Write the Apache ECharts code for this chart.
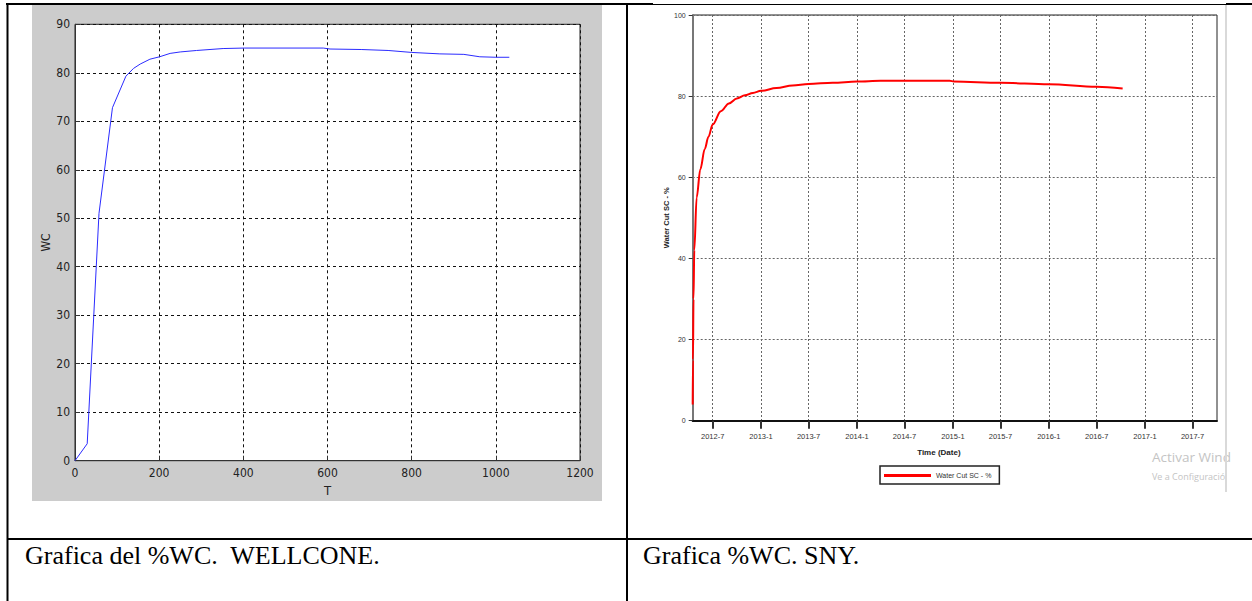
<!DOCTYPE html>
<html>
<head>
<meta charset="utf-8">
<script src="https://cdn.jsdelivr.net/npm/echarts@6/dist/echarts.min.js"></script>
<style>
html,body{margin:0;padding:0;background:#fff;}
#c{width:1252px;height:601px;}
</style>
</head>
<body>
<div id="c"></div>
<script>
// ---- Left chart (WELLCONE): T vs WC ----
const wellconeT  = [0, 29, 57, 89, 121, 139, 155, 178, 201, 226, 250, 289, 352, 402, 590, 606, 680, 744, 800, 867, 924, 962, 1000, 1032];
const wellconeWC = [0, 3.5, 51, 72.8, 79.3, 80.9, 81.8, 82.8, 83.3, 84.0, 84.3, 84.6, 85.0, 85.1, 85.1, 84.9, 84.8, 84.6, 84.2, 83.9, 83.8, 83.3, 83.2, 83.2];

// ---- Right chart (SNY): date vs Water Cut SC - % ----
const snyDates = ['2012-04-16','2012-04-17','2012-04-19','2012-04-22','2012-05-01','2012-05-15','2012-06-01','2012-06-15','2012-07-01','2012-08-01','2012-09-01','2012-10-01','2012-11-01','2012-12-01','2013-01-01','2013-03-01','2013-05-01','2013-07-01','2013-10-01','2014-01-01','2014-04-01','2014-12-20','2015-01-05','2015-07-01','2016-01-01','2016-07-01','2016-10-08'];
const snyWC    = [4, 15, 30, 42, 55, 62, 67, 70, 73, 76.3, 78.2, 79.4, 80.2, 80.8, 81.3, 82.0, 82.6, 83.0, 83.3, 83.6, 83.8, 83.8, 83.6, 83.3, 82.9, 82.3, 81.9];
const snyTickLabels = ['2012-7','2013-1','2013-7','2014-1','2014-7','2015-1','2015-7','2016-1','2016-7','2017-1','2017-7'];
const snyRange = ['2012-04-16', '2017-10-02'];

const captions = ['Grafica del %WC.  WELLCONE.', 'Grafica %WC. SNY.'];
const watermark = ['Activar Wind', 'Ve a Configuració'];

function dayTime(s){ const p = s.split('-'); return Date.UTC(+p[0], +p[1]-1, p[2] ? +p[2] : 1); }
const snyTicks = snyTickLabels.map(dayTime);

const narrow = "'Liberation Sans Narrow','DejaVu Sans Condensed','Liberation Sans',sans-serif";
const sans = "'Liberation Sans',Arial,sans-serif";

const chart = echarts.init(document.getElementById('c'), null, {renderer:'svg'});
chart.setOption({
  animation:false,
  backgroundColor:'#fff',
  grid:[
    {left:75, right:672, top:24.3, bottom:140.3, show:true, backgroundColor:'#fff', borderColor:'#222', borderWidth:1, containLabel:false},
    {left:692.7, right:35, top:15, bottom:180.3, show:true, backgroundColor:'#fff', borderColor:'#222', borderWidth:1, containLabel:false}
  ],
  legend:{
    data:['Water Cut SC - %'], left:880, top:466, orient:'horizontal',
    icon:'rect', itemWidth:47, itemHeight:3, itemGap:5,
    padding:[6,8,5,4], borderColor:'#222', borderWidth:1.5, backgroundColor:'#fff',
    textStyle:{fontSize:7, color:'#333', fontFamily:sans}
  },
  xAxis:[
    {gridIndex:0, type:'value', min:0, max:1200, interval:200,
     name:'T', nameLocation:'middle', nameGap:23,
     nameTextStyle:{fontSize:13, color:'#222', fontFamily:narrow},
     axisLine:{lineStyle:{color:'#333', width:1}},
     axisTick:{inside:true, length:5, lineStyle:{color:'#333'}},
     axisLabel:{fontSize:12, color:'#222', margin:6, fontFamily:narrow, formatter:function(v){ return String(v); }},
     splitLine:{show:true, lineStyle:{color:'#111', type:[3,3], width:1}}},
    {gridIndex:1, type:'value', min:dayTime(snyRange[0]), max:dayTime(snyRange[1]),
     name:'Time (Date)', nameLocation:'middle', nameGap:28,
     nameTextStyle:{fontSize:8, fontWeight:'bold', color:'#222', fontFamily:sans, padding:[0,32,0,0]},
     axisLine:{lineStyle:{color:'#111', width:2}},
     axisTick:{show:true, length:8, customValues:snyTicks, lineStyle:{color:'#333', width:2}},
     axisLabel:{fontSize:7.5, color:'#333', margin:12, fontFamily:sans, customValues:snyTicks, hideOverlap:false,
       formatter:function(v){ const d=new Date(v); return d.getUTCFullYear()+'-'+(d.getUTCMonth()+1); }},
     splitLine:{show:true, lineStyle:{color:'#666', type:[2,2], width:1}}}
  ],
  yAxis:[
    {gridIndex:0, type:'value', min:0, max:90, interval:10,
     name:'WC', nameLocation:'middle', nameGap:23,
     nameTextStyle:{fontSize:12, color:'#222', fontFamily:narrow},
     axisLine:{lineStyle:{color:'#333', width:1}},
     axisTick:{inside:true, length:5, lineStyle:{color:'#333'}},
     axisLabel:{fontSize:12, color:'#222', margin:5, fontFamily:narrow},
     splitLine:{show:true, lineStyle:{color:'#111', type:[3,3], width:1}}},
    {gridIndex:1, type:'value', min:0, max:100, interval:20,
     name:'Water Cut SC - %', nameLocation:'middle', nameGap:20,
     nameTextStyle:{fontSize:7.5, fontWeight:'bold', color:'#222', fontFamily:sans},
     axisLine:{lineStyle:{color:'#777', width:2}},
     axisTick:{show:true, length:4, lineStyle:{color:'#333', width:1}},
     axisLabel:{fontSize:7, color:'#333', margin:7, fontFamily:sans},
     splitLine:{show:true, lineStyle:{color:'#666', type:[2,2], width:1}}}
  ],
  series:[
    {name:'WC', type:'line', xAxisIndex:0, yAxisIndex:0, showSymbol:false,
     data: wellconeT.map((t,i)=>[t, wellconeWC[i]]),
     lineStyle:{color:'#2b2bff', width:1}, itemStyle:{color:'#2b2bff'}},
    {name:'Water Cut SC - %', type:'line', xAxisIndex:1, yAxisIndex:1, showSymbol:false,
     smooth:0.35, smoothMonotone:'x',
     data: snyDates.map((d,i)=>[dayTime(d), snyWC[i]]),
     lineStyle:{color:'#ff0000', width:2}, itemStyle:{color:'#ff0000'}}
  ],
  graphic:[
    {type:'rect', z:-100, shape:{x:32, y:5, width:570, height:496}, style:{fill:'#cccccc'}},
    {type:'text', z:10, x:1152, y:457, style:{text:watermark[0], fontSize:13.5, fontFamily:"'Open Sans',sans-serif", fill:'#c4c4c4', verticalAlign:'middle'}},
    {type:'text', z:10, x:1152, y:476, style:{text:watermark[1], fontSize:9, fontFamily:"'Open Sans',sans-serif", fill:'#c4c4c4', verticalAlign:'middle'}},
    {type:'line', z:12, shape:{x1:1226, y1:5, x2:1226, y2:492}, style:{stroke:'#d9d9d9', lineWidth:2}},
    {type:'line', z:20, shape:{x1:6, y1:4, x2:653, y2:4}, style:{stroke:'#000', lineWidth:2}},
    {type:'line', z:20, shape:{x1:653, y1:4.5, x2:1226, y2:4.5}, style:{stroke:'#000', lineWidth:1}},
    {type:'line', z:20, shape:{x1:1226, y1:4, x2:1252, y2:4}, style:{stroke:'#000', lineWidth:2}},
    {type:'line', z:20, shape:{x1:7.5, y1:3, x2:7.5, y2:601}, style:{stroke:'#000', lineWidth:2}},
    {type:'line', z:20, shape:{x1:627, y1:3, x2:627, y2:601}, style:{stroke:'#000', lineWidth:2}},
    {type:'line', z:20, shape:{x1:7, y1:539, x2:1252, y2:539}, style:{stroke:'#000', lineWidth:2}},
    {type:'text', z:20, x:25, y:555, style:{text:captions[0], fontSize:26, fontFamily:"'Liberation Serif','Times New Roman',serif", fill:'#000', verticalAlign:'middle'}},
    {type:'text', z:20, x:643, y:555, style:{text:captions[1], fontSize:26, fontFamily:"'Liberation Serif','Times New Roman',serif", fill:'#000', verticalAlign:'middle'}}
  ]
});
</script>
</body>
</html>
